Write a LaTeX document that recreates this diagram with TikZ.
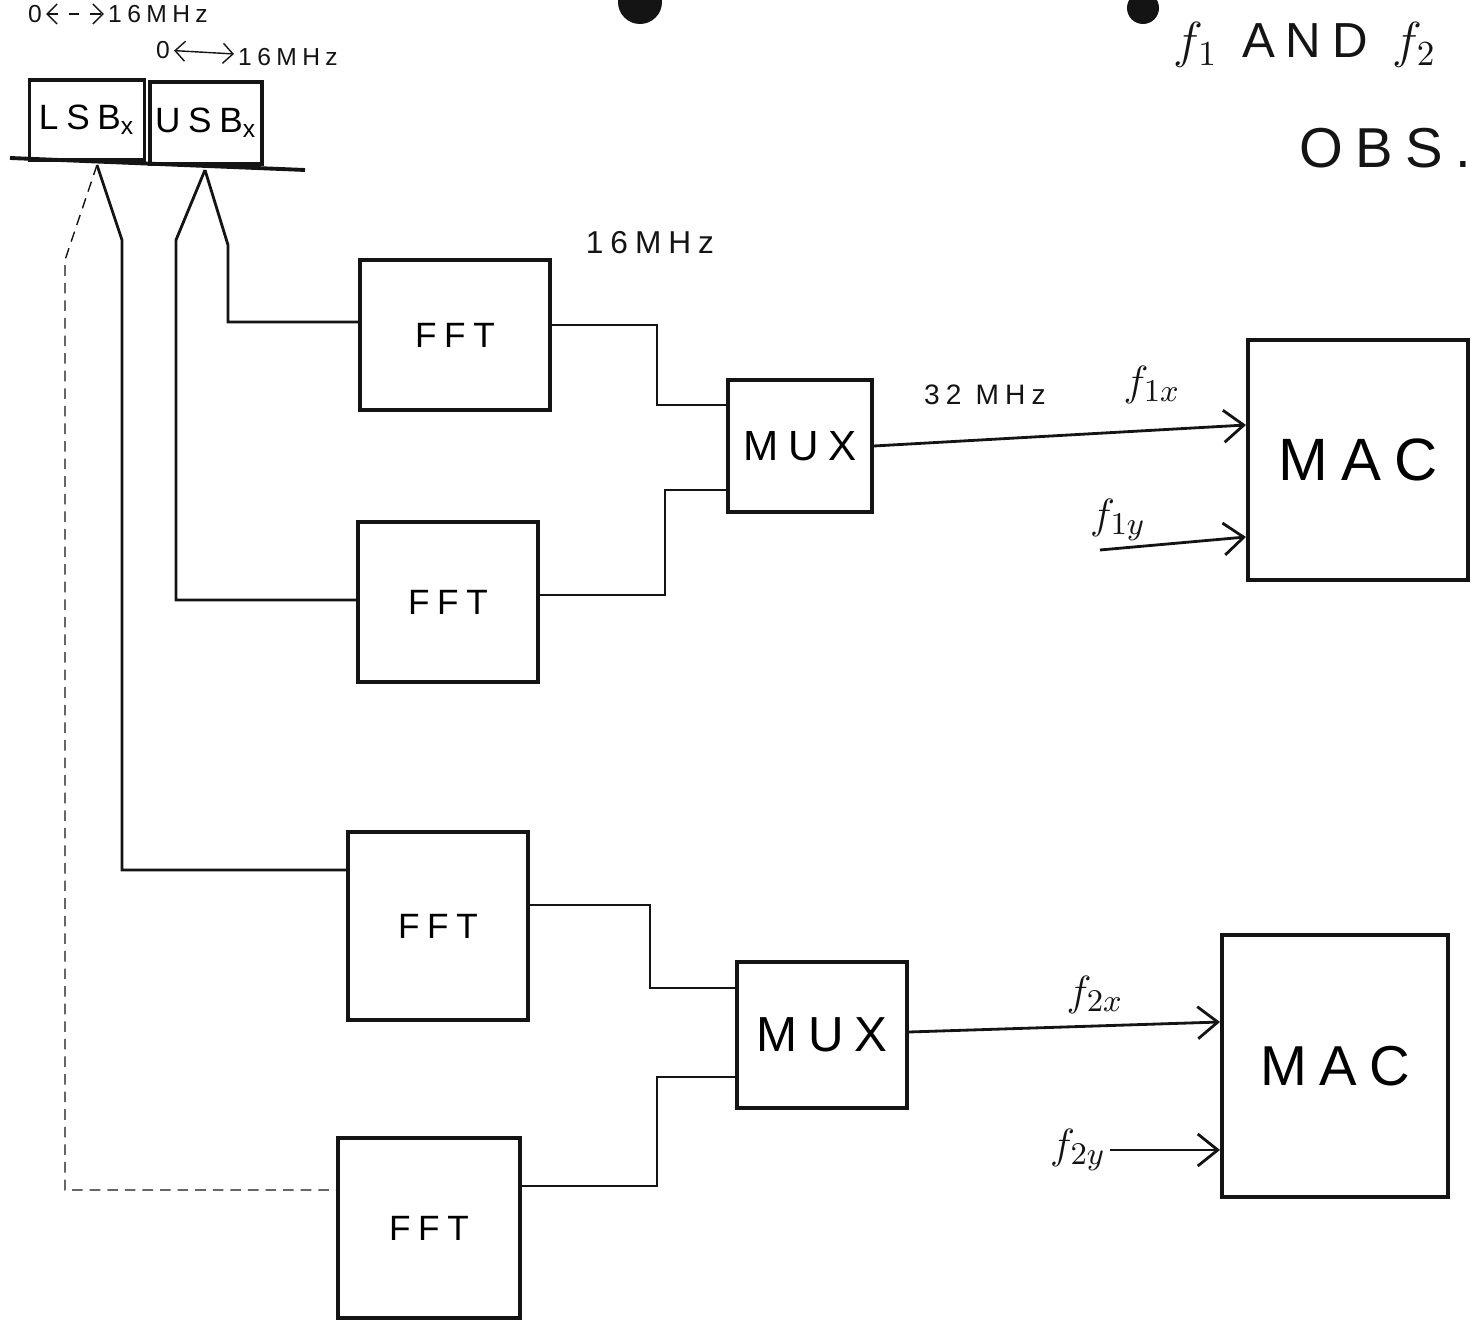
\documentclass[tikz,border=0pt]{standalone}
\usepackage{fontspec}
\setmainfont{Liberation Sans}
\newfontfamily\hand[LetterSpace=22]{Liberation Sans}
\usetikzlibrary{arrows.meta,calc,positioning}
\definecolor{InkBlack}{RGB}{20,20,20}

\begin{document}
\begin{tikzpicture}[x=0.01cm,y=-0.01cm,
  blk/.style={draw=InkBlack,line width=1.1pt,inner sep=0pt},
  lbl/.style={text=InkBlack,inner sep=1pt},
  wire/.style={draw=InkBlack,line width=0.8pt},
  feed/.style={wire,-{Straight Barb[length=2mm,width=3.2mm]}}]
\useasboundingbox (0,0) rectangle (1472,1325);
\fill[InkBlack] (640,2) circle [radius=0.22cm];
\fill[InkBlack] (1143,8) circle [radius=0.16cm];

\node[lbl,font=\hand\fontsize{7}{8}\selectfont] (lo1) at (35,14){0};
\node[lbl,font=\hand\fontsize{7}{8}\selectfont] (hi1) at (158,14){16MHz};
\draw[wire,thin,dashed,{Straight Barb[length=1mm]}-{Straight Barb[length=1mm]}] (lo1) -- (hi1);
\node[lbl,font=\hand\fontsize{7}{8}\selectfont] (lo2) at (163,50){0};
\node[lbl,font=\hand\fontsize{7}{8}\selectfont] (hi2) at (288,57){16MHz};
\draw[wire,thin,{Straight Barb[length=1mm]}-{Straight Barb[length=1mm]}] (lo2) -- (hi2);

\node[blk,minimum width=1.15cm,minimum height=0.8cm,font=\hand\fontsize{10}{12}\selectfont] (lsb) at (87,120){LSB\textsubscript{x}};
\node[blk,minimum width=1.12cm,minimum height=0.82cm,font=\hand\fontsize{10}{12}\selectfont] (usb) at (206,123){USB\textsubscript{x}};
\coordinate (bl) at (10,158);
\coordinate (br) at (305,170);
\draw[wire,line width=1.1pt] (bl) -- (br);
\coordinate (lsbtap) at (97,165);
\coordinate (usbtap) at (205,170);

\node[blk,minimum width=1.9cm,minimum height=1.5cm,font=\hand\fontsize{10}{12}\selectfont] (fft1) at (455,335){FFT};
\node[blk,minimum width=1.8cm,minimum height=1.6cm,font=\hand\fontsize{10}{12}\selectfont] (fft2) at (448,602){FFT};
\node[blk,minimum width=1.8cm,minimum height=1.88cm,font=\hand\fontsize{10}{12}\selectfont] (fft3) at (438,926){FFT};
\node[blk,minimum width=1.82cm,minimum height=1.8cm,font=\hand\fontsize{10}{12}\selectfont] (fft4) at (429,1228){FFT};
\node[blk,minimum width=1.44cm,minimum height=1.32cm,font=\hand\fontsize{12}{14}\selectfont] (mux1) at (800,446){MUX};
\node[blk,minimum width=1.7cm,minimum height=1.46cm,font=\hand\fontsize{14}{16}\selectfont] (mux2) at (822,1035){MUX};
\node[blk,minimum width=2.2cm,minimum height=2.4cm,font=\hand\fontsize{17}{20}\selectfont] (mac1) at (1358,460){MAC};
\node[blk,minimum width=2.26cm,minimum height=2.62cm,font=\hand\fontsize{16}{19}\selectfont] (mac2) at (1335,1066){MAC};

\draw[wire,thin,densely dashed] (lsbtap) -- (65,260) |- ($(fft4.west)+(0,-38)$);
\draw[wire] (lsbtap) -- (122,240) |- ($(fft3.west)+(0,-56)$);
\draw[wire] (usbtap) -- (176,240) |- ($(fft2.west)+(0,-2)$);
\draw[wire] (usbtap) -- (228,245) |- ($(fft1.west)+(0,-13)$);

\draw[wire] ($(fft1.east)+(0,-10)$) -- ++(105,0) |- ($(mux1.west)+(0,-41)$);
\draw[wire] ($(fft2.east)+(0,-7)$) -- ++(125,0) |- ($(mux1.west)+(0,44)$);
\draw[wire] ($(fft3.east)+(0,-21)$) -- ++(120,0) |- ($(mux2.west)+(0,-47)$);
\draw[wire] ($(fft4.east)+(0,-42)$) -- ++(135,0) |- ($(mux2.west)+(0,42)$);

\draw[feed] (mux1.east) -- ($(mac1.west)+(0,-35)$);
\coordinate (f1yin) at (1100,550);
\draw[feed] (f1yin) -- ($(mac1.west)+(0,77)$);
\draw[feed] ($(mux2.east)+(0,-3)$) -- ($(mac2.west)+(0,-44)$);

\node[lbl,font=\hand\fontsize{9}{11}\selectfont] (bw1) at (650,243){16MHz};
\node[lbl,font=\hand\fontsize{8}{10}\selectfont] (bw2) at (985,395){32 MHz};
\node[lbl,font=\fontsize{13}{15}\selectfont] (f1x) at (1152,385){$f_{1x}$};
\node[lbl,font=\fontsize{13}{15}\selectfont] (f1y) at (1118,520){$f_{1y}$};
\node[lbl,font=\fontsize{13}{15}\selectfont] (f2x) at (1095,995){$f_{2x}$};
\node[lbl,font=\fontsize{13}{15}\selectfont] (f2y) at (1078,1150){$f_{2y}$};
\draw[feed] (f2y.east) -- ($(mac2.west)+(0,84)$);

\node[lbl,font=\hand\fontsize{14}{16}\selectfont] (obs1) at (1305,45){$f_1$ AND $f_2$};
\node[lbl,font=\hand\fontsize{16}{18}\selectfont] (obs2) at (1385,148){OBS.};
\end{tikzpicture}
\end{document}
